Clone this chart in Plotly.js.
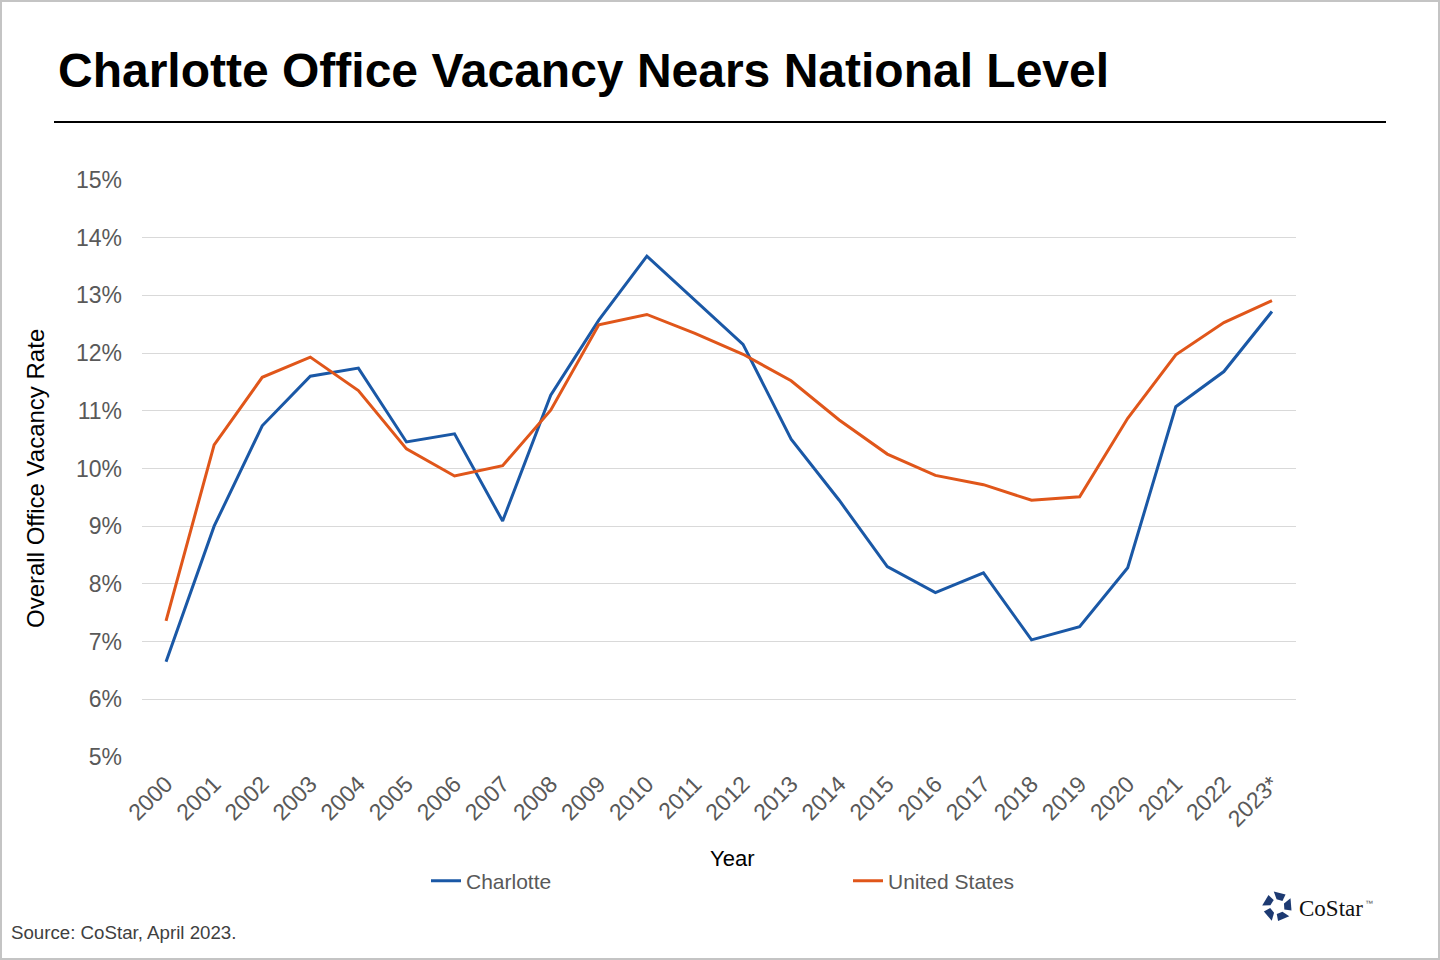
<!DOCTYPE html>
<html>
<head>
<meta charset="utf-8">
<script src="https://cdn.plot.ly/plotly-3.0.1.min.js"></script>
<style>
  html, body { margin: 0; padding: 0; background: #fff; }
  #frame { width: 1440px; height: 960px; box-sizing: border-box; border: 2px solid #c4c4c4; }
  #chart { width: 1436px; height: 956px; }
</style>
</head>
<body>
<div id="frame"><div id="chart"></div></div>
<script>
// ---- data ----
const years = ["2000","2001","2002","2003","2004","2005","2006","2007","2008","2009","2010","2011",
               "2012","2013","2014","2015","2016","2017","2018","2019","2020","2021","2022","2023*"];
const charlotte = [6.65, 9.00, 10.74, 11.60, 11.74, 10.46, 10.60, 9.09, 11.27, 12.57, 13.68, 12.92,
                   12.15, 10.51, 9.45, 8.30, 7.85, 8.19, 7.03, 7.26, 8.28, 11.07, 11.68, 12.72];
const unitedStates = [7.36, 10.41, 11.58, 11.93, 11.35, 10.34, 9.87, 10.05, 11.01, 12.49, 12.67, 12.34,
                      11.98, 11.52, 10.84, 10.25, 9.88, 9.72, 9.45, 9.51, 10.87, 11.97, 12.53, 12.91];
const yTickVals = [5, 6, 7, 8, 9, 10, 11, 12, 13, 14, 15];
const yTickText = ["5%","6%","7%","8%","9%","10%","11%","12%","13%","14%","15%"];

const FONT = "Arial, 'Liberation Sans', sans-serif";

const traces = [
  { x: years, y: charlotte, name: "Charlotte", type: "scatter", mode: "lines",
    line: { color: "#1a58a6", width: 3 } },
  { x: years, y: unitedStates, name: "United States", type: "scatter", mode: "lines",
    line: { color: "#e0561a", width: 3 } }
];

const logoSvg = (function () {
  let polys = "";
  for (let k = 0; k < 5; k++) {
    polys += '<polygon transform="rotate(' + (72 * k) + ' 50 50)" points="38,2 76,11 66,32 47,27" fill="#1d3a72"/>';
  }
  return "data:image/svg+xml;utf8," + encodeURIComponent(
    '<svg xmlns="http://www.w3.org/2000/svg" viewBox="0 0 100 100">' + polys + '</svg>');
})();

const layout = {
  width: 1436, height: 956,
  margin: { l: 140, r: 142, t: 178, b: 201 },
  paper_bgcolor: "#ffffff", plot_bgcolor: "#ffffff",
  font: { family: FONT, color: "#595959" },
  title: {
    text: "Charlotte Office Vacancy Nears National Level",
    x: 56 / 1436, xanchor: "left", xref: "container",
    y: 1 - 68 / 956, yanchor: "middle", yref: "container",
    font: { family: FONT, size: 48, color: "#000000", weight: "bold" }
  },
  xaxis: {
    type: "category", range: [-0.5, 23.5], tickangle: -45,
    tickfont: { family: FONT, size: 23, color: "#595959" },
    showgrid: false, showline: false, zeroline: false, ticks: "",
    ticklabelstandoff: 8,
    fixedrange: true
  },
  yaxis: {
    range: [5, 15], tickvals: yTickVals, ticktext: yTickText,
    tickfont: { family: FONT, size: 23, color: "#595959" },
    showgrid: true, gridcolor: "#d9d9d9", gridwidth: 1,
    showline: false, zeroline: false, ticks: "", ticklabelstandoff: 19,
    fixedrange: true
  },
  showlegend: true,
  legend: {
    orientation: "h", x: (436 - 2 - 140 - 10) / 1154, xanchor: "left",
    y: (755 - (881 - 2)) / 577, yanchor: "middle",
    font: { family: FONT, size: 21, color: "#595959" },
    entrywidth: 377, entrywidthmode: "pixels", itemwidth: 30,
    bgcolor: "rgba(0,0,0,0)"
  },
  shapes: [
    { type: "line", xref: "paper", yref: "paper",
      x0: (52 - 140) / 1154, x1: (1384 - 140) / 1154,
      y0: (755 - 120) / 577, y1: (755 - 120) / 577,
      line: { color: "#000000", width: 2 } }
  ],
  annotations: [
    { text: "Overall Office Vacancy Rate", textangle: -90, showarrow: false,
      xref: "paper", yref: "paper", x: (33 - 140) / 1154, y: (755 - 477) / 577,
      xanchor: "center", yanchor: "middle",
      font: { family: FONT, size: 24, color: "#000000" } },
    { text: "Year", showarrow: false, xref: "paper", yref: "paper",
      x: (730 - 140) / 1154, y: (755 - 856) / 577, xanchor: "center", yanchor: "middle",
      font: { family: FONT, size: 22, color: "#000000" } },
    { text: "Source: CoStar, April 2023.", showarrow: false, xref: "paper", yref: "paper",
      x: (7 - 140) / 1154, y: (755 - 930) / 577, xanchor: "left", yanchor: "middle",
      font: { family: FONT, size: 18.7, color: "#404040" } },
    { text: "CoStar", showarrow: false, xref: "paper", yref: "paper",
      x: (1295 - 140) / 1154, y: (755 - 906) / 577, xanchor: "left", yanchor: "middle",
      font: { family: "'Liberation Serif', 'Times New Roman', serif", size: 23, color: "#111111" } },
    { text: "™", showarrow: false, xref: "paper", yref: "paper",
      x: (1361 - 140) / 1154, y: (755 - 901) / 577, xanchor: "left", yanchor: "middle",
      font: { family: FONT, size: 8, color: "#555555" } }
  ],
  images: [
    { source: logoSvg, xref: "paper", yref: "paper",
      x: (1260 - 140) / 1154, y: (755 - 889) / 577,
      sizex: 31 / 1154, sizey: 31 / 577, xanchor: "left", yanchor: "top",
      sizing: "stretch", layer: "above" }
  ]
};

Plotly.newPlot("chart", traces, layout, { displayModeBar: false, staticPlot: true });
</script>
</body>
</html>
